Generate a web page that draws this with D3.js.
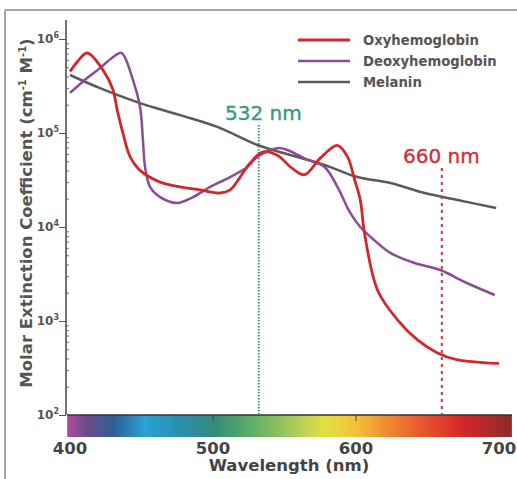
<!DOCTYPE html>
<html>
<head>
<meta charset="utf-8">
<script src="https://cdn.jsdelivr.net/npm/d3@7"></script>
<style>
  body { margin: 0; background: #fff; }
  svg { display: block; font-family: "DejaVu Sans", Verdana, sans-serif; }
</style>
</head>
<body>
<svg id="svg0" width="517" height="479"></svg>
<script>
// values: [wavelength nm, molar extinction]
var oxyhemoglobin = [[400, 4.5e5], [405, 5.7e5], [412, 7.1e5], [423, 4.7e5], [430, 2.9e5], [433, 1.76e5],
    [437, 1.0e5], [442, 5.6e4], [449, 4.0e4], [463, 3.0e4], [477, 2.67e4], [491, 2.48e4], [505, 2.3e4],
    [512, 2.48e4], [519, 3.4e4], [526, 4.8e4], [535, 6.3e4], [545, 5.8e4], [555, 4.25e4], [564, 3.6e4],
    [575, 5.4e4], [587, 7.4e4], [594, 5.6e4], [599, 3.2e4], [603, 1.94e4], [606, 8.5e3], [615, 2.14e3],
    [629, 1.03e3], [643, 630], [657, 457], [671, 385], [694, 357], [700, 355]];

var deoxyhemoglobin = [[400, 2.67e5], [412, 3.85e5], [421, 4.9e5], [430, 6.4e5], [436, 7.1e5], [444, 3.67e5],
    [449, 1.89e5], [451, 8.4e4], [452.5, 4.35e4], [456, 2.67e4], [463, 2.08e4], [475, 1.8e4], [486, 2.08e4],
    [498, 2.67e4], [512, 3.4e4], [524, 4.35e4], [531, 5.56e4], [545, 6.9e4], [552, 6.6e4], [566, 5.2e4],
    [578, 4.35e4], [587, 2.67e4], [596, 1.41e4], [603, 1.0e4], [613, 7.2e3], [624, 5.3e3], [641, 4.14e3],
    [659, 3.49e3], [676, 2.6e3], [697, 1.89e3]];

var melanin = [[400, 4.14e5], [421, 3.0e5], [449, 2.08e5], [477, 1.55e5], [503, 1.16e5], [531, 7.45e4],
    [554, 5.83e4], [578, 4.57e4], [601, 3.4e4], [624, 2.94e4], [648, 2.3e4], [671, 1.94e4], [698, 1.59e4]];

var seriesNames = ['Oxyhemoglobin', 'Deoxyhemoglobin', 'Melanin'];
var seriesColors = ['#d4272b', '#8a4d94', '#5f5858'];

var xTicks = [400, 500, 600, 700];
var yMajor = [1e2, 1e3, 1e4, 1e5, 1e6];
var markers = [{nm: 532, label: '532 nm', color: '#35a070'}, {nm: 660, label: '660 nm', color: '#d2303c'}];

// spectrum colours for the wavelength bar
var spectrum = [[398, '#b04a9e'], [412, '#6a4c8e'], [430, '#2f5e92'], [452, '#2aa0d6'], [478, '#2a8eac'],
    [500, '#368a7c'], [525, '#5aab66'], [555, '#a6c95e'], [578, '#e2e040'], [600, '#f2c23a'],
    [622, '#f08a30'], [645, '#e85a2e'], [675, '#d6262a'], [709, '#8a2c2c']];

var svg = d3.select('#svg0');

var x = d3.scaleLinear().domain([400, 700]).range([70, 499]);
var y = d3.scaleLog().domain([1e2, 1e6]).range([415, 39]);

// frame lines
svg.append('line').attr('x1', 5).attr('x2', 517).attr('y1', 10).attr('y2', 10)
    .attr('stroke', '#8a8a8a').attr('stroke-width', 1.5);
svg.append('line').attr('x1', 5).attr('x2', 5).attr('y1', 10).attr('y2', 479)
    .attr('stroke', '#8a8a8a').attr('stroke-width', 1.5);

// colour bar
var grad = svg.append('defs').append('linearGradient')
    .attr('id', 'spec').attr('gradientUnits', 'userSpaceOnUse')
    .attr('x1', x(398)).attr('x2', x(709)).attr('y1', 0).attr('y2', 0);
grad.selectAll('stop').data(spectrum).enter().append('stop')
    .attr('offset', function(d){ return (d[0] - 398) / (709 - 398); })
    .attr('stop-color', function(d){ return d[1]; });

svg.append('rect').attr('x', x(398)).attr('y', 415).attr('width', x(709) - x(398)).attr('height', 22)
    .attr('fill', 'url(#spec)');
svg.append('line').attr('x1', x(398)).attr('x2', x(709)).attr('y1', 415).attr('y2', 415)
    .attr('stroke', '#333').attr('stroke-width', 1.5);

svg.selectAll('.bartick').data([500, 600]).enter().append('line')
    .attr('x1', function(d){ return x(d); }).attr('x2', function(d){ return x(d); })
    .attr('y1', 415).attr('y2', 421).attr('stroke', '#444').attr('stroke-width', 1);

svg.selectAll('.xlab').data(xTicks).enter().append('text')
    .attr('x', function(d){ return x(d); }).attr('y', 454)
    .attr('text-anchor', 'middle').attr('font-size', 16.5).attr('font-weight', 'bold').attr('fill', '#444')
    .text(function(d){ return d; });

svg.append('text').attr('x', 289).attr('y', 471).attr('text-anchor', 'middle')
    .attr('font-size', 16.5).attr('font-weight', 'bold').attr('fill', '#444')
    .text('Wavelength (nm)');

// y axis
var yMinor = [];
yMajor.slice(0, -1).forEach(function(p){
    for (var k = 2; k <= 9; k++) yMinor.push(p * k);
});

var gy = svg.append('g').attr('transform', 'translate(66,0)');
gy.call(d3.axisLeft(y).tickValues(yMajor).tickSize(7).tickFormat(''));
gy.call(function(g){ g.select('.domain').remove(); });
gy.selectAll('line').attr('stroke', '#555');

var gm = svg.append('g').attr('transform', 'translate(66,0)');
gm.call(d3.axisRight(y).tickValues(yMinor).tickSize(3).tickFormat(''));
gm.select('.domain').remove();
gm.selectAll('line').attr('stroke', '#777');

svg.append('line').attr('x1', 66).attr('x2', 66).attr('y1', 20).attr('y2', 415)
    .attr('stroke', '#444').attr('stroke-width', 1.5);

var ylab = svg.selectAll('.ylab').data(yMajor).enter().append('text')
    .attr('x', 59).attr('y', function(d){ return y(d) + 4; })
    .attr('text-anchor', 'end').attr('font-size', 12).attr('font-weight', 'bold').attr('fill', '#555');
ylab.append('tspan').text('10');
ylab.append('tspan').attr('dy', -5).attr('font-size', 8)
    .text(function(d){ return Math.round(Math.log10(d)); });

var ytitle = svg.append('text').attr('transform', 'translate(32,213) rotate(-90)')
    .attr('text-anchor', 'middle').attr('font-size', 16.5).attr('font-weight', 'bold').attr('fill', '#555');
ytitle.append('tspan').text('Molar Extinction Coefficient (cm');
ytitle.append('tspan').attr('dy', -6).attr('font-size', 10).text('-1');
ytitle.append('tspan').attr('dy', 6).text(' M');
ytitle.append('tspan').attr('dy', -6).attr('font-size', 10).text('-1');
ytitle.append('tspan').attr('dy', 6).text(')');

// marker lines
svg.selectAll('.marker').data(markers).enter().append('line')
    .attr('x1', function(d){ return x(d.nm); }).attr('x2', function(d){ return x(d.nm); })
    .attr('y1', function(d, i){ return i === 0 ? 125 : 168; }).attr('y2', 414)
    .attr('stroke', function(d){ return d.color; }).attr('stroke-width', 2)
    .attr('stroke-dasharray', function(d, i){ return i === 0 ? '1.5,1.5' : '3,4'; });

// curves
var line = d3.line()
    .x(function(d){ return x(d[0]); })
    .y(function(d){ return y(d[1]); })
    .curve(d3.curveCatmullRom.alpha(0.5));

var allSeries = [melanin, deoxyhemoglobin, oxyhemoglobin];
var drawColors = [seriesColors[2], seriesColors[1], seriesColors[0]];
svg.selectAll('.curve').data(allSeries).enter().append('path')
    .attr('d', line).attr('fill', 'none')
    .attr('stroke', function(d, i){ return drawColors[i]; })
    .attr('stroke-width', function(d, i){ return i === 2 ? 2.8 : 2.5; })
    .attr('stroke-linejoin', 'round');

// marker labels
svg.selectAll('.mlabel').data(markers).enter().append('text')
    .attr('x', function(d, i){ return i === 0 ? 225 : 403; })
    .attr('y', function(d, i){ return i === 0 ? 120 : 163; })
    .attr('font-size', 20).attr('fill', function(d){ return d.color; })
    .attr('stroke', function(d){ return d.color; }).attr('stroke-width', 0.4)
    .text(function(d){ return d.label; });

// legend
var leg = svg.selectAll('.leg').data(seriesNames).enter().append('g')
    .attr('transform', function(d, i){ return 'translate(298,' + (40 + i * 21) + ')'; });
leg.append('line').attr('x1', 0).attr('x2', 52).attr('y1', 0).attr('y2', 0)
    .attr('stroke', function(d, i){ return seriesColors[i]; })
    .attr('stroke-width', function(d, i){ return i === 0 ? 3.2 : 2.6; });
leg.append('text').attr('x', 65).attr('y', 5)
    .attr('font-size', 13.2).attr('font-weight', 'bold').attr('fill', '#555')
    .text(function(d){ return d; });
</script>
</body>
</html>
